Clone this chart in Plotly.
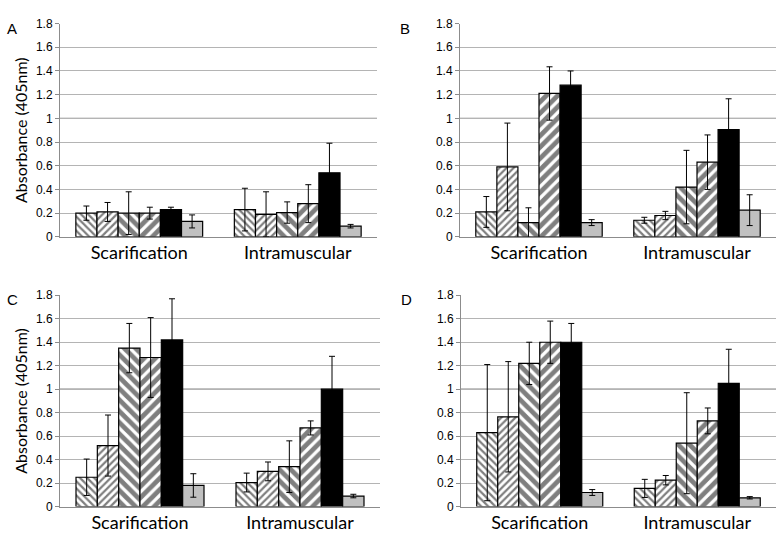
import plotly.graph_objects as go

categories = ["Scarification", "Intramuscular"]
panels = ["A", "B", "C", "D"]
series_names = ["Series 1", "Series 2", "Series 3", "Series 4", "Series 5", "Series 6"]

# values[panel][series] = [Scarification, Intramuscular]
A_vals = [[0.20, 0.23], [0.21, 0.19], [0.20, 0.205], [0.20, 0.28], [0.23, 0.54], [0.13, 0.09]]
A_errs = [[0.06, 0.18], [0.08, 0.19], [0.18, 0.09], [0.05, 0.16], [0.02, 0.25], [0.055, 0.015]]
B_vals = [[0.21, 0.14], [0.59, 0.18], [0.12, 0.42], [1.21, 0.63], [1.28, 0.905], [0.12, 0.225]]
B_errs = [[0.13, 0.025], [0.37, 0.035], [0.125, 0.31], [0.225, 0.23], [0.12, 0.26], [0.025, 0.13]]
C_vals = [[0.25, 0.205], [0.52, 0.30], [1.35, 0.34], [1.27, 0.67], [1.42, 1.00], [0.18, 0.09]]
C_errs = [[0.155, 0.08], [0.26, 0.08], [0.21, 0.22], [0.34, 0.06], [0.35, 0.28], [0.10, 0.015]]
D_vals = [[0.63, 0.155], [0.765, 0.225], [1.22, 0.54], [1.40, 0.73], [1.40, 1.05], [0.12, 0.075]]
D_errs = [[0.58, 0.077], [0.47, 0.04], [0.18, 0.43], [0.18, 0.11], [0.16, 0.29], [0.025, 0.01]]

y_ticks = [0, 0.2, 0.4, 0.6, 0.8, 1, 1.2, 1.4, 1.6, 1.8]
y_ticktext = ["0", "0.2", "0.4", "0.6", "0.8", "1", "1.2", "1.4", "1.6", "1.8"]
y_title = "Absorbance (405nm)"

vals = {"A": A_vals, "B": B_vals, "C": C_vals, "D": D_vals}
errs = {"A": A_errs, "B": B_errs, "C": C_errs, "D": D_errs}

W, H = 777, 536
# pixel boxes: (left, right, top, bottom)
boxes = {"A": (60, 377, 17, 236), "B": (460, 776, 17, 236),
         "C": (60, 380, 296, 513), "D": (461, 776, 296, 513)}

styles = [
    dict(color="white", pattern=dict(shape="\\", size=5, solidity=0.45, fgcolor="black", bgcolor="white")),
    dict(color="white", pattern=dict(shape="/", size=5, solidity=0.45, fgcolor="black", bgcolor="white")),
    dict(color="white", pattern=dict(shape="\\", size=8, solidity=0.6, fgcolor="black", bgcolor="white")),
    dict(color="white", pattern=dict(shape="/", size=8, solidity=0.6, fgcolor="black", bgcolor="white")),
    dict(color="black"),
    dict(color="#c0c0c0"),
]

fig = go.Figure()
for pi, p in enumerate(panels):
    ax = "" if pi == 0 else str(pi + 1)
    for si in range(6):
        st = styles[si]
        marker = dict(color=st["color"], line=dict(color="black", width=1.2))
        if "pattern" in st:
            marker["pattern"] = st["pattern"]
        fig.add_trace(go.Bar(
            x=categories, y=vals[p][si], name=series_names[si],
            marker=marker,
            error_y=dict(type="data", array=errs[p][si], symmetric=True,
                         color="black", thickness=1, width=3),
            xaxis="x" + ax, yaxis="y" + ax, showlegend=False,
        ))
    l, r, t, b = boxes[p]
    xd = [l / W, r / W]
    yd = [1 - b / H, 1 - t / H]
    fig.layout["xaxis" + ax] = dict(
        domain=xd, anchor="y" + ax, showgrid=False, showline=True,
        linecolor="#8c8c8c", linewidth=1, ticks="",
        tickfont=dict(family="Lato, Open Sans, sans-serif", size=18, color="black"),
    )
    fig.layout["yaxis" + ax] = dict(
        domain=yd, anchor="x" + ax, range=[0, 1.8], tickvals=y_ticks, ticktext=y_ticktext,
        showgrid=True, gridcolor="#b4b4b4", gridwidth=1, showline=True,
        linecolor="#8c8c8c", linewidth=1, ticks="outside", ticklen=4, tickcolor="#8c8c8c",
        zeroline=False,
        tickfont=dict(family="Liberation Sans, Arial, sans-serif", size=12, color="black"),
        title=dict(text=y_title if p in ("A", "C") else "",
                   font=dict(family="Lato, Open Sans, sans-serif", size=16, color="black"),
                   standoff=4),
    )
    # darker line at y = 1
    fig.add_shape(type="line", xref="x" + ax + " domain", yref="y" + ax,
                  x0=0, x1=1, y0=1, y1=1, line=dict(color="#3c3c3c", width=1), layer="below")
    fig.add_annotation(text=p, xref="paper", yref="paper",
                       x=(l - 55) / W if p in ("A", "C") else (l - 62) / W,
                       y=1 - (t - 6) / H, xanchor="left", yanchor="top", showarrow=False,
                       font=dict(family="Liberation Sans, Arial, sans-serif", size=15, color="black"))

fig.update_layout(
    width=W, height=H, margin=dict(l=0, r=0, t=0, b=0),
    paper_bgcolor="white", plot_bgcolor="white",
    barmode="group", bargap=0.2, bargroupgap=0,
)

fig.write_html("out.html", config={"displayModeBar": False},
               post_script="document.body.style.margin='0';document.body.style.overflow='hidden';")
